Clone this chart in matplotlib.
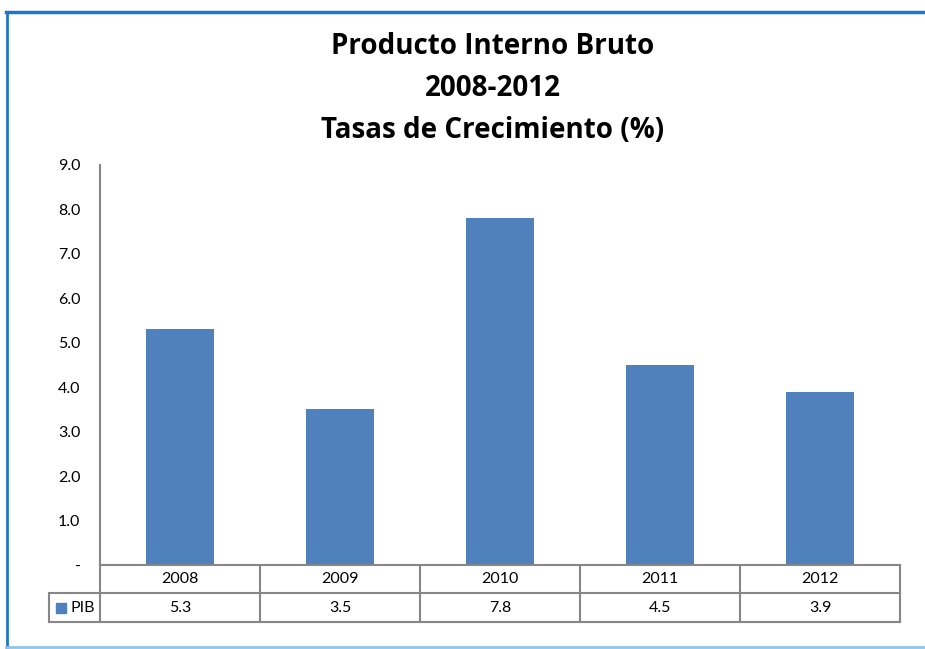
import matplotlib.pyplot as plt
from matplotlib.patches import Rectangle
from matplotlib.lines import Line2D

years = ["2008", "2009", "2010", "2011", "2012"]
pib = [5.3, 3.5, 7.8, 4.5, 3.9]
yticks = [0, 1, 2, 3, 4, 5, 6, 7, 8, 9]
ytick_labels = ["-"] + [f"{v:.1f}" for v in yticks[1:]]

W, H = 925, 649
bar_color = "#4F81BD"
grid_color = "#868686"
body_font = "Lato"

fig = plt.figure(figsize=(W / 100, H / 100), dpi=100)

# chart frame
fig.add_artist(Line2D([6 / W, 1], [1 - 12 / H, 1 - 12 / H], color="#1F77C8", lw=2.5))
fig.add_artist(Line2D([7 / W, 7 / W], [1 - 12 / H, 1 - 647 / H], color="#1F77C8", lw=2.0))
fig.add_artist(Line2D([6 / W, 1], [1 - 647 / H, 1 - 647 / H], color="#8EC3EA", lw=2.0))

title_font = dict(family="Open Sans", weight="bold", size=20, ha="center", va="center")
fig.text(493 / W, 1 - 47 / H, "Producto Interno Bruto", **title_font)
fig.text(493 / W, 1 - 88 / H, "2008-2012", **title_font)
fig.text(493 / W, 1 - 130 / H, "Tasas de Crecimiento (%)", **title_font)

x0, x1, y0, y1 = 100, 900, 165, 565
ax = fig.add_axes([x0 / W, 1 - y1 / H, (x1 - x0) / W, (y1 - y0) / H])
n = len(years)
ax.bar(range(n), pib, width=0.43, color=bar_color, zorder=2)
ax.set_xlim(-0.5, n - 0.5)
ax.set_ylim(0, 9)
ax.set_yticks(yticks)
ax.set_yticklabels(ytick_labels, fontsize=11.5, family=body_font)
ax.tick_params(axis="y", length=0, pad=14)
ax.set_xticks([])
for side in ["top", "right", "bottom"]:
    ax.spines[side].set_visible(False)
ax.spines["left"].set_color(grid_color)
ax.spines["left"].set_linewidth(1.5)

# data table below the bars (px -> data units)
upx = 9 / 400
r1 = -28 * upx
r2 = -57 * upx
left = -0.5 - 51 / 160
line_kw = dict(color=grid_color, lw=1.5, clip_on=False)
ax.plot([-0.5, n - 0.5], [0, 0], **line_kw)
ax.plot([left, n - 0.5], [r1, r1], **line_kw)
ax.plot([left, n - 0.5], [r2, r2], **line_kw)
for i in range(n + 1):
    ax.plot([i - 0.5, i - 0.5], [0, r2], **line_kw)
ax.plot([left, left], [r1, r2], **line_kw)

for i, (yr, v) in enumerate(zip(years, pib)):
    ax.text(i, r1 / 2, yr, ha="center", va="center", fontsize=11.5, family=body_font)
    ax.text(i, (r1 + r2) / 2, f"{v:.1f}", ha="center", va="center",
            fontsize=11.5, family=body_font)

# legend key + series name
ax.add_patch(Rectangle((-0.5 - 44 / 160, (r1 + r2) / 2 - 5 * upx), 10 / 160, 10 * upx,
                       color=bar_color, clip_on=False))
ax.text(-0.5 - 30 / 160, (r1 + r2) / 2, "PIB", ha="left", va="center",
        fontsize=11.5, family=body_font)

fig.savefig("out.png", dpi=100)
